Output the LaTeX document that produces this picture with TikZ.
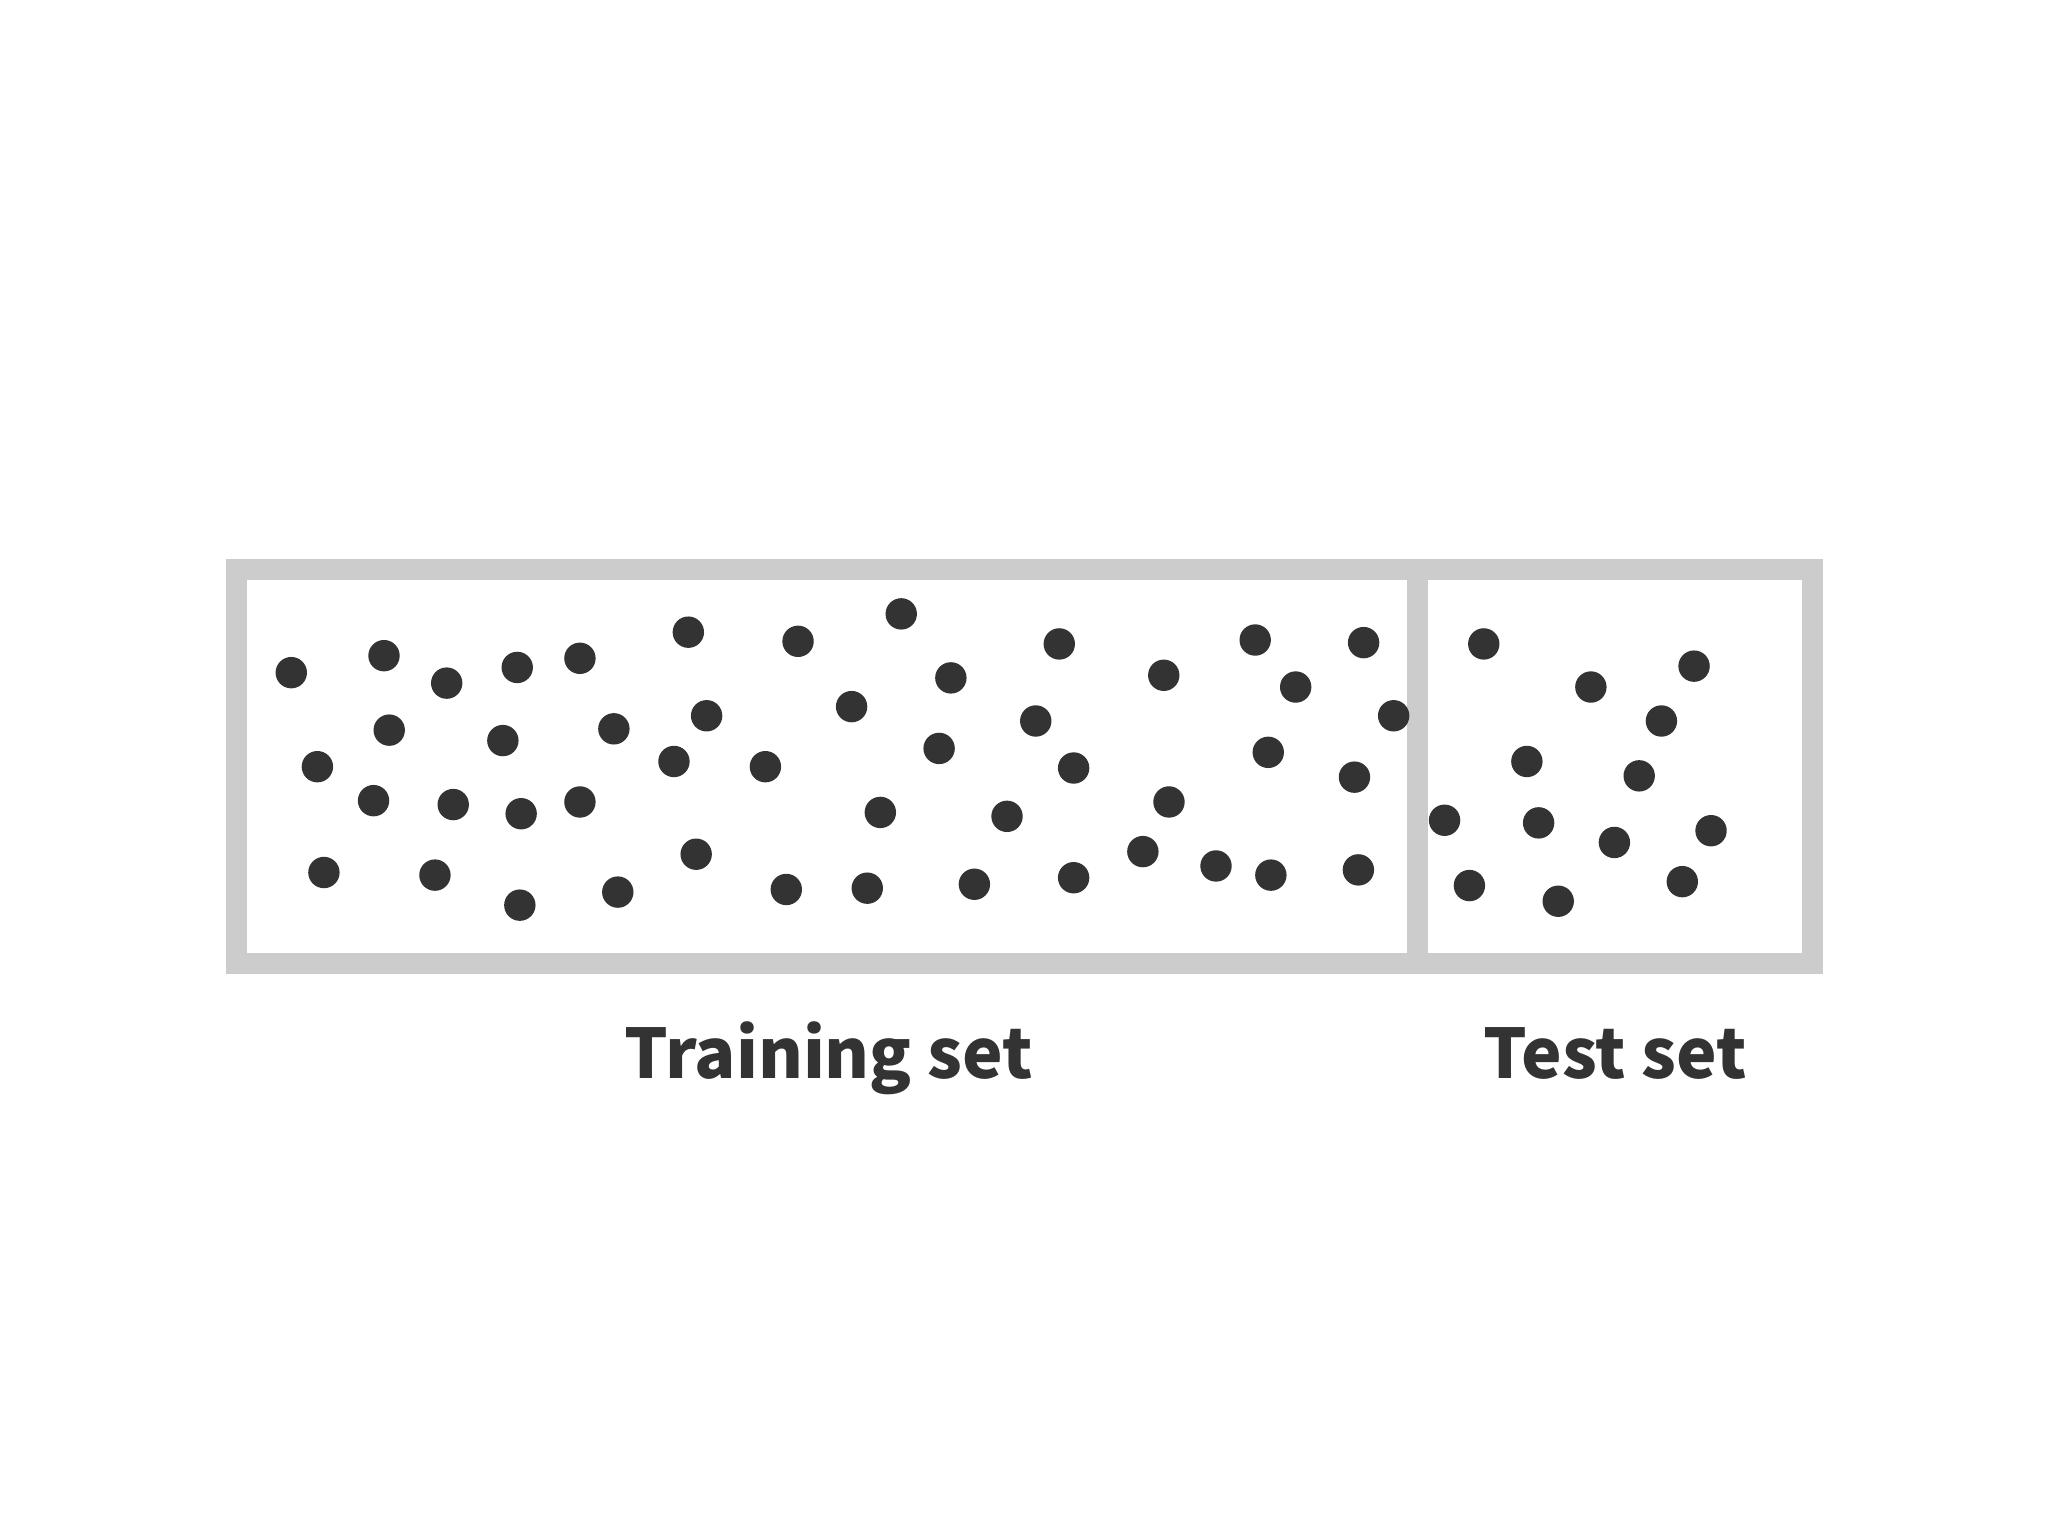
\documentclass[tikz,border=0pt]{standalone}
\usepackage{fontspec}
\newfontfamily\labfont{Noto Sans CJK JP}
\definecolor{dotc}{HTML}{333333}
\definecolor{framec}{HTML}{CCCCCC}
\tikzset{
  pt/.style={circle,fill=dotc,inner sep=0pt,minimum size=15.7pt},
  framebox/.style={draw=framec,line width=10.45pt},
  lab/.style={text=dotc,font=\labfont\bfseries\fontsize{34.2}{38}\selectfont,inner sep=0pt,anchor=base}
}
\begin{document}
\begin{tikzpicture}[x=0.65306pt,y=-0.65306pt]
\useasboundingbox (0,0) rectangle (1568,1176);
\fill[white] (0,0) rectangle (1568,1176);
\coordinate (tl) at (181,436);
\coordinate (br) at (1388,738);
\coordinate (dt) at (1085,436);
\coordinate (db) at (1085,738);
\draw[framebox] (tl) rectangle (br);
\draw[framebox] (dt) -- (db);
\foreach \x/\y [count=\i] in {
223/515, 294/502, 342/523, 396/511, 444/504, 527/484, 611/491, 690/470, 811/493, 891/517, 961/490, 1044/492,
298/559, 385/567, 470/558, 541/548, 652/541, 728/519, 793/552, 992/526, 1067/548,
243/587, 516/583, 586/587, 719/573, 822/588, 971/576, 1037/595,
286/613, 347/616, 399/623, 444/614, 674/622, 771/625, 895/614,
248/668, 333/670, 398/693, 473/683, 533/654, 602/681, 664/680, 746/677, 822/672, 875/652, 931/663, 973/670, 1040/666}
  \node[pt] (tr\i) at (\x,\y) {};
\foreach \x/\y [count=\i] in {
1136/493, 1218/526, 1297/510, 1272/552, 1169/583, 1255/594, 1106/628, 1178/630, 1236/645, 1310/636, 1125/678, 1193/690, 1288/675}
  \node[pt] (te\i) at (\x,\y) {};
\node[lab] (train) at (634.5,826) {Training set};
\node[lab] (test) at (1236.5,826) {Test set};
\end{tikzpicture}
\end{document}
